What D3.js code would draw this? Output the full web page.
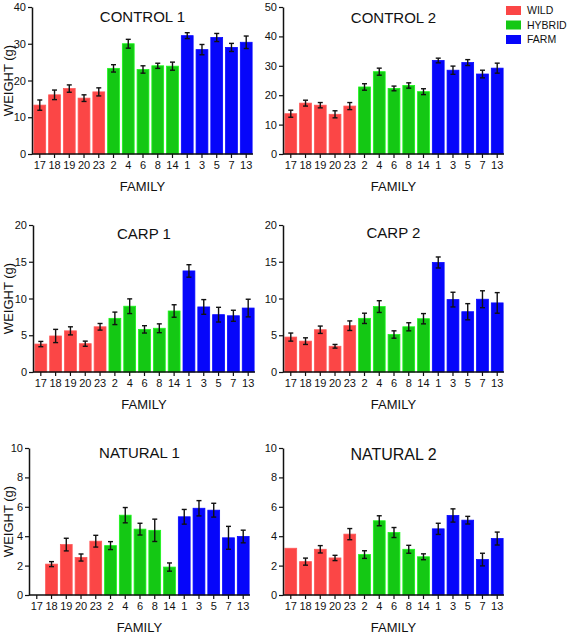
<!DOCTYPE html>
<html><head><meta charset="utf-8">
<script src="https://cdn.jsdelivr.net/npm/d3@7"></script>
<style>body{margin:0;background:#fff}svg{display:block}text{font-family:"Liberation Sans",Arial,sans-serif;fill:#111}</style>
</head><body><div id="chart"></div>
<script>
const families = ["17","18","19","20","23","2","4","6","8","14","1","3","5","7","13"];
const groups = ["WILD","WILD","WILD","WILD","WILD","HYBRID","HYBRID","HYBRID","HYBRID","HYBRID","FARM","FARM","FARM","FARM","FARM"];
const groupNames = ["WILD","HYBRID","FARM"];
const groupColors = ["#fb4646","#14c814","#0606fa"];

const control1 = [13.3,16.1,17.8,15.2,16.9,23.3,30.0,23.0,24.0,23.9,32.2,28.4,31.7,29.0,30.4];
const control1Err = [1.4,1.3,1.0,0.9,1.1,1.0,1.2,1.0,0.7,1.1,0.8,1.4,1.1,1.1,1.7];
const control2 = [13.7,17.3,16.6,13.5,16.3,22.8,28.0,22.3,23.3,21.2,31.8,28.5,31.1,27.2,29.2];
const control2Err = [1.2,1.0,0.9,1.2,1.2,1.1,1.2,0.8,0.9,1.0,0.8,1.4,1.0,1.3,1.7];
const carp1 = [3.8,4.9,5.6,3.85,6.15,7.3,8.95,5.8,5.95,8.3,13.75,8.85,7.8,7.65,8.7];
const carp1Err = [0.36,0.9,0.55,0.35,0.45,0.85,1.0,0.5,0.6,0.85,0.85,1.0,1.0,0.75,1.2];
const carp2 = [4.75,4.2,5.75,3.5,6.3,7.3,8.9,5.1,6.15,7.25,14.9,9.85,8.2,9.9,9.4];
const carp2Err = [0.55,0.45,0.5,0.25,0.65,0.7,0.8,0.5,0.55,0.7,0.75,1.0,1.1,1.15,1.4];
const natural1 = [null,2.1,3.43,2.55,3.66,3.36,5.43,4.48,4.4,1.9,5.32,5.9,5.77,3.89,3.98];
const natural1Err = [0,0.17,0.43,0.24,0.4,0.27,0.52,0.4,0.76,0.28,0.5,0.52,0.47,0.78,0.43];
const natural2 = [3.18,2.27,3.11,2.52,4.14,2.75,5.05,4.25,3.11,2.6,4.5,5.41,5.09,2.41,3.84];
const natural2Err = [0,0.24,0.25,0.18,0.38,0.26,0.34,0.34,0.27,0.2,0.38,0.45,0.26,0.43,0.44];

const yTicks1 = [0,10,20,30,40];
const yTicks2 = [0,10,20,30,40,50];
const yTicksCarp = [0,5,10,15,20];
const yTicksNat = [0,2,4,6,8,10];

const panels = [
  {title:"CONTROL 1", vals:control1, errs:control1Err, ticks:yTicks1, max:40, x0:32, x1:253, top:7, bot:154, ylabel:true, tsize:15, ty:17},
  {title:"CONTROL 2", vals:control2, errs:control2Err, ticks:yTicks2, max:50, x0:283, x1:504, top:7, bot:154, ylabel:false, tsize:15, ty:18},
  {title:"CARP 1", vals:carp1, errs:carp1Err, ticks:yTicksCarp, max:20, x0:33, x1:255, top:225, bot:372, ylabel:true, tsize:15, ty:234},
  {title:"CARP 2", vals:carp2, errs:carp2Err, ticks:yTicksCarp, max:20, x0:283, x1:504, top:225, bot:372, ylabel:false, tsize:15, ty:233},
  {title:"NATURAL 1", vals:natural1, errs:natural1Err, ticks:yTicksNat, max:10, x0:29, x1:250, top:448, bot:595, ylabel:true, tsize:15, ty:453},
  {title:"NATURAL 2", vals:natural2, errs:natural2Err, ticks:yTicksNat, max:10, x0:283, x1:504, top:448, bot:595, ylabel:false, tsize:16, ty:454}
];

const W = 567, H = 634;
const svg = d3.select("#chart").append("svg").attr("width", W).attr("height", H);
const color = d3.scaleOrdinal().domain(groupNames).range(groupColors);

panels.forEach(p => {
  const g = svg.append("g");
  const x = d3.scaleBand().domain(families).range([p.x0 + 1, p.x1]).paddingInner(0.2).paddingOuter(0.06);
  const y = d3.scaleLinear().domain([0, p.max]).range([p.bot, p.top]);
  const data = families.map((f, i) => ({f, v: p.vals[i], e: p.errs[i], grp: groups[i]}));

  g.selectAll("rect.bar").data(data.filter(d => d.v != null)).join("rect")
    .attr("class","bar")
    .attr("x", d => x(d.f)).attr("width", x.bandwidth())
    .attr("y", d => y(d.v)).attr("height", d => y(0) - y(d.v))
    .attr("fill", d => color(d.grp))
    .attr("stroke", d => d3.color(color(d.grp)).brighter(0.6))
    .attr("stroke-width", 0.8);

  const eb = data.filter(d => d.v != null && d.e > 0);
  const cap = 2.5;
  const eg = g.append("g").attr("stroke","#111").attr("stroke-width",1.4).attr("fill","none");
  eg.selectAll("line.v").data(eb).join("line")
    .attr("x1", d => x(d.f) + x.bandwidth()/2).attr("x2", d => x(d.f) + x.bandwidth()/2)
    .attr("y1", d => y(d.v + d.e)).attr("y2", d => y(d.v - d.e));
  eg.selectAll("line.t").data(eb).join("line")
    .attr("x1", d => x(d.f) + x.bandwidth()/2 - cap).attr("x2", d => x(d.f) + x.bandwidth()/2 + cap)
    .attr("y1", d => y(d.v + d.e)).attr("y2", d => y(d.v + d.e));
  eg.selectAll("line.b").data(eb).join("line")
    .attr("x1", d => x(d.f) + x.bandwidth()/2 - cap).attr("x2", d => x(d.f) + x.bandwidth()/2 + cap)
    .attr("y1", d => y(d.v - d.e)).attr("y2", d => y(d.v - d.e));

  const yAxis = g.append("g").attr("transform", `translate(${p.x0},0)`)
    .call(d3.axisLeft(y).tickValues(p.ticks).tickSize(4).tickSizeOuter(0).tickPadding(2));
  const xAxis = g.append("g").attr("transform", `translate(0,${p.bot})`)
    .call(d3.axisBottom(x).tickSize(4).tickSizeOuter(0).tickPadding(3));
  [yAxis, xAxis].forEach(a => {
    a.select(".domain").attr("stroke","#111").attr("stroke-width",1.5);
    a.selectAll(".tick line").attr("stroke","#111").attr("stroke-width",1.2);
    a.selectAll(".tick text").attr("font-size", 11).attr("fill","#111")
      .attr("font-family",'"Liberation Sans",Arial,sans-serif');
  });
  // fix domain ends
  xAxis.select(".domain").attr("d", `M${p.x0},0H${p.x1}`);

  g.append("text").attr("x", (p.x0 + p.x1)/2).attr("y", p.ty).attr("dy","0.35em")
    .attr("text-anchor","middle").attr("font-size", p.tsize).text(p.title);
  g.append("text").attr("x", (p.x0 + p.x1)/2).attr("y", p.bot + 32).attr("dy","0.35em")
    .attr("text-anchor","middle").attr("font-size", 13).text("FAMILY");
  if (p.ylabel) {
    g.append("text").attr("transform", `translate(8,${(p.top + p.bot)/2}) rotate(-90)`)
      .attr("dy","0.35em").attr("text-anchor","middle").attr("font-size", 13).text("WEIGHT (g)");
  }
});

// legend
const lg = svg.append("g");
groupNames.forEach((n, i) => {
  lg.append("rect").attr("x", 506).attr("y", 6 + i*14.5).attr("width", 15).attr("height", 9)
    .attr("fill", color(n));
  lg.append("text").attr("x", 527).attr("y", 10.5 + i*14.5).attr("dy","0.35em")
    .attr("font-size", 10.5).text(n);
});
</script></body></html>
